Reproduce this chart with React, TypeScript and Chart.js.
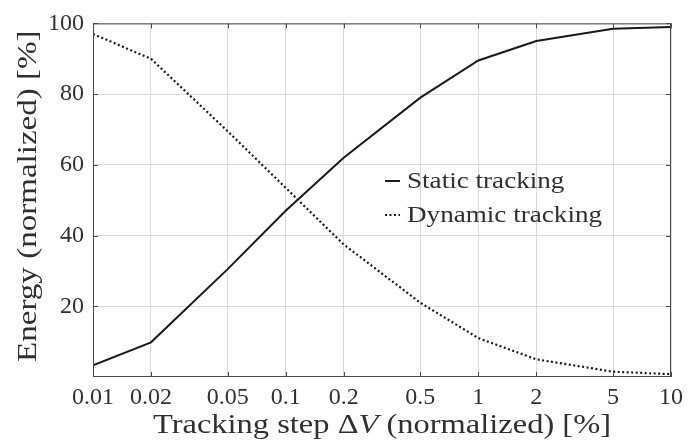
import React, { useEffect, useRef } from "react";
import { Chart, registerables } from "chart.js";

Chart.register(...registerables);

const stepValues = [0.01, 0.02, 0.05, 0.1, 0.2, 0.5, 1, 2, 5, 10];
const xTickLabels = ["0.01", "0.02", "0.05", "0.1", "0.2", "0.5", "1", "2", "5", "10"];
const staticTracking = [3.3, 9.8, 30.5, 47, 62, 79, 89.5, 95, 98.5, 99];
const dynamicTracking = [97, 90, 69.5, 53.5, 37.5, 21, 11, 5, 1.5, 0.8];
const yTicks = [20, 40, 60, 80, 100];
const seriesLabels = ["Static tracking", "Dynamic tracking"];

const FONT = "'Liberation Serif', serif";
const TEXT = "#303030";
const STRETCH = 1.16;

function drawParts(ctx: any, parts: { t: string; f: string }[], cx: number, y: number, sx: number) {
  let total = 0;
  parts.forEach((p) => {
    ctx.font = p.f;
    total += ctx.measureText(p.t).width;
  });
  ctx.save();
  ctx.translate(cx - (total * sx) / 2, y);
  ctx.scale(sx, 1);
  ctx.textAlign = "left";
  let x = 0;
  parts.forEach((p) => {
    ctx.font = p.f;
    ctx.fillText(p.t, x, 0);
    x += ctx.measureText(p.t).width;
  });
  ctx.restore();
}

const decorPlugin = {
  id: "decor",
  afterDatasetsDraw(chart: any) {
    const { ctx, chartArea } = chart;
    const { left, right, top, bottom } = chartArea;
    ctx.save();
    ctx.strokeStyle = "#4a4a4a";
    ctx.lineWidth = 1;
    ctx.strokeRect(left + 0.5, top + 0.5, right - left - 1, bottom - top - 1);
    const xs = chart.scales.x;
    const ys = chart.scales.y;
    ctx.beginPath();
    stepValues.forEach((v) => {
      const px = Math.round(xs.getPixelForValue(v)) + 0.5;
      ctx.moveTo(px, bottom);
      ctx.lineTo(px, bottom - 5);
      ctx.moveTo(px, top);
      ctx.lineTo(px, top + 5);
    });
    yTicks.forEach((v) => {
      const py = Math.round(ys.getPixelForValue(v)) + 0.5;
      ctx.moveTo(left, py);
      ctx.lineTo(left + 5, py);
      ctx.moveTo(right, py);
      ctx.lineTo(right - 5, py);
    });
    ctx.stroke();

    // legend
    const lx = 385;
    const items = [
      { y: 181, dash: [] as number[] },
      { y: 215, dash: [2, 2.5] },
    ];
    ctx.fillStyle = TEXT;
    items.forEach((it, i) => {
      ctx.beginPath();
      ctx.setLineDash(it.dash);
      ctx.strokeStyle = "#1a1a1a";
      ctx.lineWidth = 2;
      ctx.moveTo(lx, it.y);
      ctx.lineTo(lx + 15, it.y);
      ctx.stroke();
      ctx.setLineDash([]);
      ctx.save();
      ctx.translate(lx + 22, it.y + 7);
      ctx.scale(1.13, 1);
      ctx.font = `24px ${FONT}`;
      ctx.textBaseline = "alphabetic";
      ctx.textAlign = "left";
      ctx.fillText(seriesLabels[i], 0, 0);
      ctx.restore();
    });

    const tFont = `28px ${FONT}`;
    const tFontI = `italic 28px ${FONT}`;
    ctx.textBaseline = "alphabetic";
    drawParts(
      ctx,
      [
        { t: "Tracking step \u0394", f: tFont },
        { t: "V", f: tFontI },
        { t: " (normalized) [%]", f: tFont },
      ],
      (left + right) / 2,
      433,
      STRETCH
    );

    ctx.save();
    ctx.translate(36, (top + bottom) / 2 - 4);
    ctx.rotate(-Math.PI / 2);
    drawParts(ctx, [{ t: "Energy (normalized) [%]", f: tFont }], 0, 0, 1.18);
    ctx.restore();

    ctx.restore();
  },
};

export default function App() {
  const ref = useRef<HTMLCanvasElement | null>(null);
  useEffect(() => {
    let chart: any = null;
    let cancelled = false;
    const fontsReady = (document as any).fonts
      ? Promise.all([
          (document as any).fonts.load(`24px 'Liberation Serif'`),
          (document as any).fonts.load(`italic 28px 'Liberation Serif'`),
        ]).catch(() => null)
      : Promise.resolve(null);
    fontsReady.then(() => {
      if (cancelled || !ref.current) return;
      chart = new Chart(ref.current, {
        type: "line",
        data: {
          datasets: [
            {
              label: seriesLabels[0],
              data: stepValues.map((x, i) => ({ x, y: staticTracking[i] })),
              borderColor: "#1a1a1a",
              borderWidth: 2,
              pointRadius: 0,
              tension: 0,
            },
            {
              label: seriesLabels[1],
              data: stepValues.map((x, i) => ({ x, y: dynamicTracking[i] })),
              borderColor: "#1a1a1a",
              borderWidth: 2.2,
              borderDash: [2, 2.5],
              pointRadius: 0,
              tension: 0,
            },
          ],
        },
        options: {
          responsive: false,
          animation: false,
          layout: { padding: { top: 19, right: 28, left: 0, bottom: 0 } },
          plugins: { legend: { display: false }, tooltip: { enabled: false } },
          scales: {
            x: {
              type: "logarithmic",
              min: 0.01,
              max: 10,
              afterBuildTicks: (s: any) => {
                s.ticks = stepValues.map((v) => ({ value: v }));
              },
              afterFit: (s: any) => {
                s.height = 68;
              },
              ticks: {
                autoSkip: false,
                maxRotation: 0,
                padding: 6,
                color: TEXT,
                font: { family: FONT, size: 24 },
                callback: (v: any) => {
                  const i = stepValues.indexOf(Number(v));
                  return i >= 0 ? xTickLabels[i] : "";
                },
              },
              grid: { color: "#d9d9d9", drawTicks: false, lineWidth: 1 },
              border: { display: false },
            },
            y: {
              type: "linear",
              min: 0,
              max: 100,
              afterBuildTicks: (s: any) => {
                s.ticks = yTicks.map((v) => ({ value: v }));
              },
              afterFit: (s: any) => {
                s.width = 93;
              },
              ticks: {
                padding: 9,
                color: TEXT,
                font: { family: FONT, size: 24 },
              },
              grid: { color: "#d9d9d9", drawTicks: false, lineWidth: 1 },
              border: { display: false },
            },
          },
        },
        plugins: [decorPlugin],
      } as any);
    });
    return () => {
      cancelled = true;
      if (chart) chart.destroy();
    };
  }, []);
  return (
    <div style={{ position: "absolute", left: 0, top: 0, width: 699, height: 445, background: "#fff" }}>
      <canvas ref={ref} width={699} height={445} style={{ display: "block" }} />
    </div>
  );
}
